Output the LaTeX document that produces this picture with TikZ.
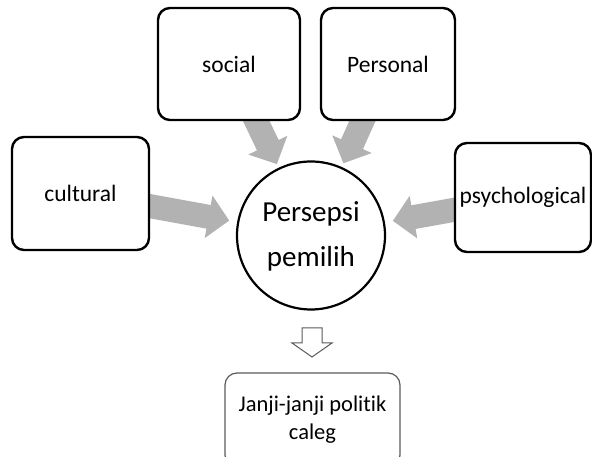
\documentclass[tikz,border=0pt]{standalone}
\usepackage{fontspec}
\setmainfont{Carlito}[Ligatures=NoCommon]
\usepackage{xcolor}
\usetikzlibrary{arrows.meta, backgrounds}

\definecolor{arrgray}{RGB}{178,178,178}
\definecolor{boxline}{RGB}{90,90,90}

\begin{document}
\begin{tikzpicture}[x=1pt, y=1pt,
        box/.style={draw, line width=2.4pt, rounded corners=12pt, fill=white,
            font=\fontsize{23.5}{28}\selectfont},
        fat/.style={color=arrgray, line width=24pt,
            -{Triangle[width=42pt, length=21pt]}, shorten <=-12pt}]
        \useasboundingbox (0,0) rectangle (592,457);

        \node[box, minimum width=137pt, minimum height=113pt] (cul) at (80.5,263.5) {cultural};
        \node[box, minimum width=142pt, minimum height=112pt] (soc) at (229,393) {social};
        \node[box, minimum width=134pt, minimum height=112pt] (per) at (388,393) {Personal};
        \node[box, minimum width=136pt, minimum height=109pt] (psy) at (523,259.5) {psychological};

        \node[draw, circle, line width=2.2pt, fill=white, minimum size=148pt,
            font=\fontsize{29}{45}\selectfont]
            (pm) at (311,221.5) {\raisebox{-3pt}{\begin{tabular}{@{}c@{}}Persepsi\\pemilih\end{tabular}}};

        \node[draw=boxline, line width=1.2pt, rounded corners=12pt, minimum width=175pt,
            minimum height=94pt, align=center, font=\fontsize{22.5}{28}\selectfont]
            (jj) at (312.5,37) {Janji-janji politik\\caleg};

        \begin{scope}[on background layer]
            \path[fat, shorten >=8pt] (cul) edge (pm) (psy) edge (pm);
            \path[fat, shorten >=4pt] (soc) edge (pm) (per) edge (pm);
        \end{scope}

        % hollow arrow down to the box
        \coordinate (dn) at (312,129);
        \draw[draw=boxline, line width=1pt, fill=white]
            (dn) ++(-10,0) -- ++(20,0) -- ++(0,-15) -- ++(10,0) -- ++(-20,-14)
            -- ++(-20,14) -- ++(10,0) -- cycle;
\end{tikzpicture}
\end{document}
